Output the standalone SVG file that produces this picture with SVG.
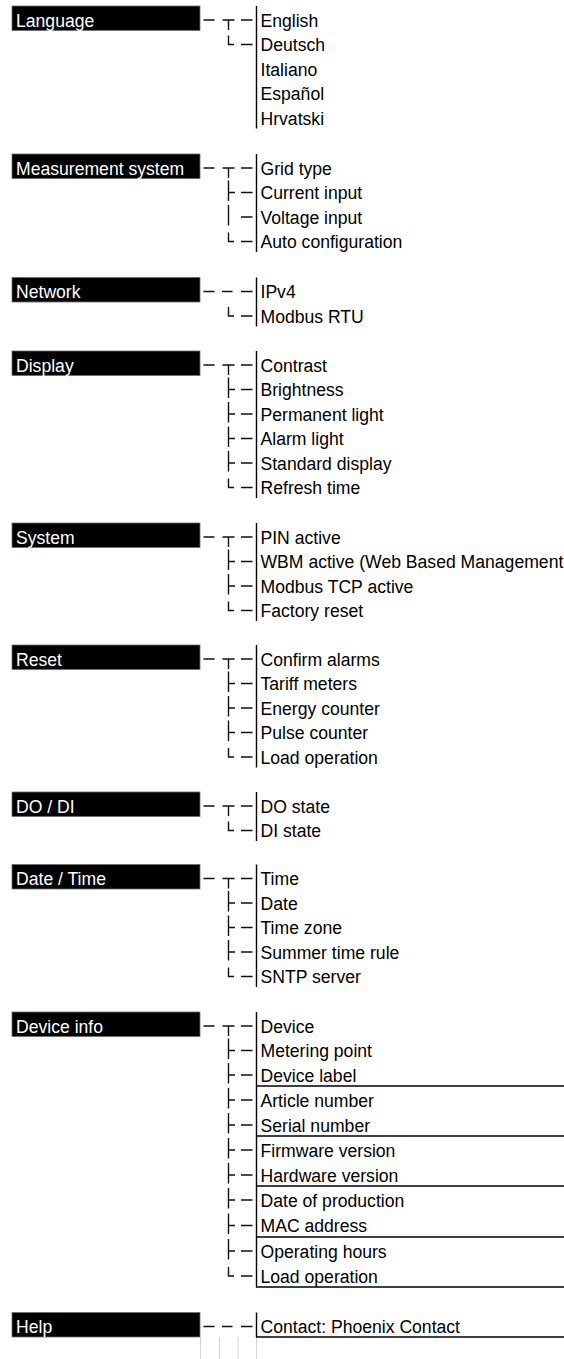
<svg xmlns="http://www.w3.org/2000/svg" width="564" height="1359" viewBox="0 0 564 1359">
<style>
.bar{fill:#000;stroke:#6e6e6e;stroke-width:0.8}
.bl{font-family:"Liberation Sans",Arial,sans-serif;font-size:17.6px;fill:#fff}
.it{font-family:"Liberation Sans",Arial,sans-serif;font-size:17.6px;fill:#000}
.ln{fill:none;stroke:#111;stroke-width:1.4}
.bd{fill:none;stroke:#000;stroke-width:1.4}
.gr{fill:none;stroke:#d4d4d4;stroke-width:1}
</style>
<rect width="564" height="1359" fill="#fff"/>

<g id="language">
<rect class="bar" x="12" y="6" width="188" height="24.5"/>
<text class="bl" x="16" y="26.5">Language</text>
</g>
<g id="language-items">
<g id="english"><text class="it" x="260.5" y="26.5">English</text></g>
<g id="deutsch"><text class="it" x="260.5" y="51">Deutsch</text></g>
<g id="italiano"><text class="it" x="260.5" y="75.5">Italiano</text></g>
<g id="espanol"><text class="it" x="260.5" y="100">Español</text></g>
<g id="hrvatski"><text class="it" x="260.5" y="124.5">Hrvatski</text></g>
</g>

<g id="measurement">
<rect class="bar" x="12" y="154" width="188" height="24.5"/>
<text class="bl" x="16" y="174.5">Measurement system</text>
</g>
<g id="measurement-items">
<g id="grid-type"><text class="it" x="260.5" y="174.5">Grid type</text></g>
<g id="current-input"><text class="it" x="260.5" y="199">Current input</text></g>
<g id="voltage-input"><text class="it" x="260.5" y="223.5">Voltage input</text></g>
<g id="auto-config"><text class="it" x="260.5" y="248">Auto configuration</text></g>
</g>

<g id="network">
<rect class="bar" x="12" y="277.5" width="188" height="24.5"/>
<text class="bl" x="16" y="298">Network</text>
</g>
<g id="network-items">
<g id="ipv4"><text class="it" x="260.5" y="298">IPv4</text></g>
<g id="modbus-rtu"><text class="it" x="260.5" y="322.5">Modbus RTU</text></g>
</g>

<g id="display">
<rect class="bar" x="12" y="351" width="188" height="24.5"/>
<text class="bl" x="16" y="371.5">Display</text>
</g>
<g id="display-items">
<g id="contrast"><text class="it" x="260.5" y="371.5">Contrast</text></g>
<g id="brightness"><text class="it" x="260.5" y="396">Brightness</text></g>
<g id="permanent-light"><text class="it" x="260.5" y="420.5">Permanent light</text></g>
<g id="alarm-light"><text class="it" x="260.5" y="445">Alarm light</text></g>
<g id="standard-display"><text class="it" x="260.5" y="469.5">Standard display</text></g>
<g id="refresh-time"><text class="it" x="260.5" y="494">Refresh time</text></g>
</g>

<g id="system">
<rect class="bar" x="12" y="523" width="188" height="24.5"/>
<text class="bl" x="16" y="543.5">System</text>
</g>
<g id="system-items">
<g id="pin-active"><text class="it" x="260.5" y="543.5">PIN active</text></g>
<g id="wbm-active"><text class="it" x="260.5" y="568">WBM active (Web Based Management</text></g>
<g id="modbus-tcp"><text class="it" x="260.5" y="592.5">Modbus TCP active</text></g>
<g id="factory-reset"><text class="it" x="260.5" y="617">Factory reset</text></g>
</g>

<g id="reset">
<rect class="bar" x="12" y="645" width="188" height="24.5"/>
<text class="bl" x="16" y="665.5">Reset</text>
</g>
<g id="reset-items">
<g id="confirm-alarms"><text class="it" x="260.5" y="665.5">Confirm alarms</text></g>
<g id="tariff-meters"><text class="it" x="260.5" y="690">Tariff meters</text></g>
<g id="energy-counter"><text class="it" x="260.5" y="714.5">Energy counter</text></g>
<g id="pulse-counter"><text class="it" x="260.5" y="739">Pulse counter</text></g>
<g id="load-operation-1"><text class="it" x="260.5" y="763.5">Load operation</text></g>
</g>

<g id="do-di">
<rect class="bar" x="12" y="792" width="188" height="24.5"/>
<text class="bl" x="16" y="812.5">DO / DI</text>
</g>
<g id="do-di-items">
<g id="do-state"><text class="it" x="260.5" y="812.5">DO state</text></g>
<g id="di-state"><text class="it" x="260.5" y="837">DI state</text></g>
</g>

<g id="date-time">
<rect class="bar" x="12" y="864.5" width="188" height="24.5"/>
<text class="bl" x="16" y="885">Date / Time</text>
</g>
<g id="date-time-items">
<g id="time"><text class="it" x="260.5" y="885">Time</text></g>
<g id="date"><text class="it" x="260.5" y="909.5">Date</text></g>
<g id="time-zone"><text class="it" x="260.5" y="934">Time zone</text></g>
<g id="summer-time"><text class="it" x="260.5" y="958.5">Summer time rule</text></g>
<g id="sntp-server"><text class="it" x="260.5" y="983">SNTP server</text></g>
</g>

<g id="device-info">
<rect class="bar" x="12" y="1012" width="188" height="24.5"/>
<text class="bl" x="16" y="1032.5">Device info</text>
</g>
<g id="device-info-items">
<g id="device"><text class="it" x="260.5" y="1032.5">Device</text></g>
<g id="metering-point"><text class="it" x="260.5" y="1057">Metering point</text></g>
<g id="device-label"><text class="it" x="260.5" y="1081.5">Device label</text></g>
<g id="article-number"><text class="it" x="260.5" y="1106.5">Article number</text></g>
<g id="serial-number"><text class="it" x="260.5" y="1131.5">Serial number</text></g>
<g id="firmware-version"><text class="it" x="260.5" y="1156.5">Firmware version</text></g>
<g id="hardware-version"><text class="it" x="260.5" y="1181.5">Hardware version</text></g>
<g id="date-of-production"><text class="it" x="260.5" y="1206.5">Date of production</text></g>
<g id="mac-address"><text class="it" x="260.5" y="1232">MAC address</text></g>
<g id="operating-hours"><text class="it" x="260.5" y="1257.5">Operating hours</text></g>
<g id="load-operation-2"><text class="it" x="260.5" y="1282.5">Load operation</text></g>
</g>

<g id="help">
<rect class="bar" x="12" y="1312.5" width="188" height="24.5"/>
<text class="bl" x="16" y="1333">Help</text>
</g>
<g id="help-items">
<g id="contact"><text class="it" x="260.5" y="1333">Contact: Phoenix Contact</text></g>
</g>

<g id="connectors">
<path class="ln" d="M203.5 20H214.5M222.5 20H234.5M228.5 20V30M241 20H252.5M228.5 35.5V44.5H234M241 44.5H252.5"/>
<path class="ln" d="M203.5 168H214.5M222.5 168H234.5M228.5 168V178M241 168H252.5M228.5 180.5V201M228.5 192.5H235M241 192.5H252.5M228.5 205V225.5M241 217H252.5M228.5 232.5V241.5H234M241 241.5H252.5"/>
<path class="ln" d="M203.5 291.5H214.5M222 291.5H232.5M241 291.5H252.5M228.5 307V316H234M241 316H252.5"/>
<path class="ln" d="M203.5 365H214.5M222.5 365H234.5M228.5 365V375M241 365H252.5M228.5 377.5V398M228.5 389.5H235M241 389.5H252.5M228.5 402V422.5M228.5 414H235M241 414H252.5M228.5 426.5V447M228.5 438.5H235M241 438.5H252.5M228.5 451V471.5M228.5 463H235M241 463H252.5M228.5 478.5V487.5H234M241 487.5H252.5"/>
<path class="ln" d="M203.5 537H214.5M222.5 537H234.5M228.5 537V547M241 537H252.5M228.5 549.5V570M228.5 561.5H235M241 561.5H252.5M228.5 574V594.5M228.5 586H235M241 586H252.5M228.5 601.5V610.5H234M241 610.5H252.5"/>
<path class="ln" d="M203.5 659H214.5M222.5 659H234.5M228.5 659V669M241 659H252.5M228.5 671.5V692M228.5 683.5H235M241 683.5H252.5M228.5 696V716.5M228.5 708H235M241 708H252.5M228.5 720.5V741M228.5 732.5H235M241 732.5H252.5M228.5 748V757H234M241 757H252.5"/>
<path class="ln" d="M203.5 806H214.5M222.5 806H234.5M228.5 806V816M241 806H252.5M228.5 821.5V830.5H234M241 830.5H252.5"/>
<path class="ln" d="M203.5 878.5H214.5M222.5 878.5H234.5M228.5 878.5V888.5M241 878.5H252.5M228.5 891V911.5M228.5 903H235M241 903H252.5M228.5 915.5V936M228.5 927.5H235M241 927.5H252.5M228.5 940V960.5M228.5 952H235M241 952H252.5M228.5 967.5V976.5H234M241 976.5H252.5"/>
<path class="ln" d="M203.5 1026H214.5M222.5 1026H234.5M228.5 1026V1036M241 1026H252.5M228.5 1038.5V1059M228.5 1050.5H235M241 1050.5H252.5M228.5 1063V1083.5M228.5 1075H235M241 1075H252.5M228.5 1088V1108.5M228.5 1100H235M241 1100H252.5M228.5 1113V1133.5M228.5 1125H235M241 1125H252.5M228.5 1138V1158.5M228.5 1150H235M241 1150H252.5M228.5 1163V1183.5M228.5 1175H235M241 1175H252.5M228.5 1188V1208.5M228.5 1200H235M241 1200H252.5M228.5 1213.5V1234M228.5 1225.5H235M241 1225.5H252.5M228.5 1239V1259.5M228.5 1251H235M241 1251H252.5M228.5 1267V1276H234M241 1276H252.5"/>
<path class="ln" d="M203.5 1326.5H214.5M222 1326.5H232.5M241 1326.5H252.5"/>
</g>

<g id="borders">
<path class="gr" d="M200.5 1337V1359M219.5 1337V1359M238 1337V1359M256.5 1337V1359"/>
<path class="bd" d="M256.5 6V128.5M256.5 154V252M256.5 277.5V326.5M256.5 351V498M256.5 523V621M256.5 645V767.5M256.5 792V841M256.5 864.5V987M256.5 1012V1287M256.5 1312.5V1337"/>
<path class="bd" d="M256 1086H564M256 1136H564M256 1186H564M256 1237H564M256 1287H564M256 1337H564"/>
</g>
</svg>
